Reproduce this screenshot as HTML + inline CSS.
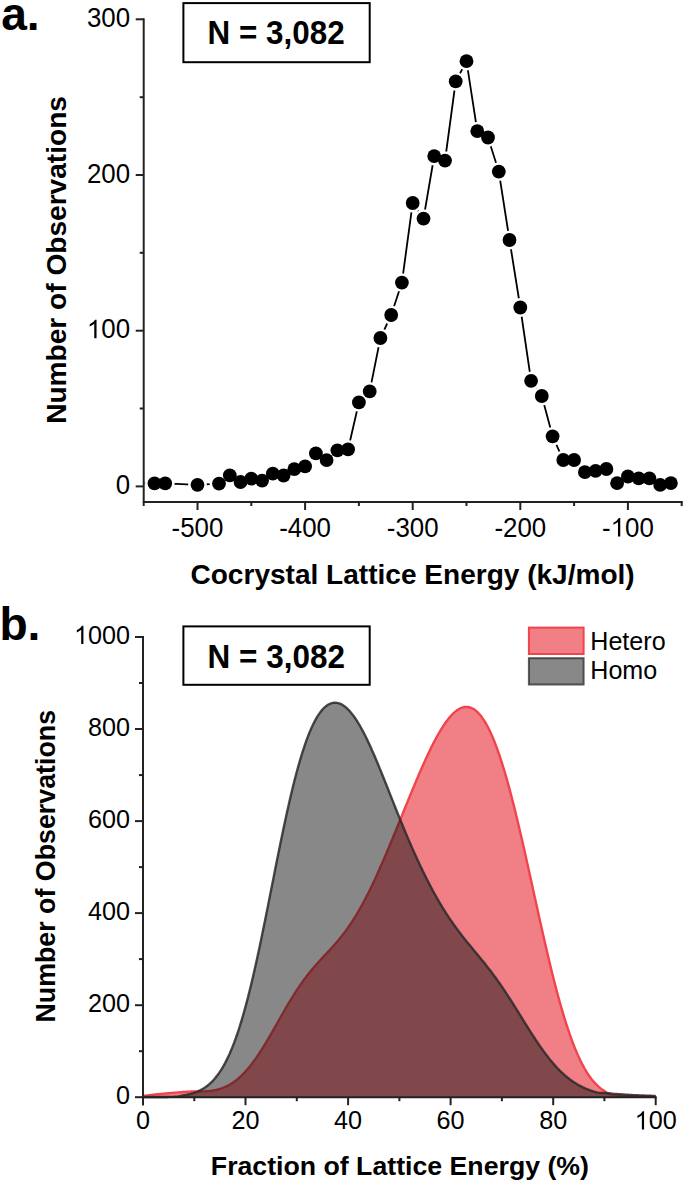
<!DOCTYPE html>
<html><head><meta charset="utf-8"><style>
html,body{margin:0;padding:0;background:#fff;overflow:hidden;}
svg{display:block;}
text{font-family:"Liberation Sans", sans-serif;}
</style></head><body>
<svg width="685" height="1184" viewBox="0 0 685 1184">
<rect width="685" height="1184" fill="#fff"/>
<text x="1.2" y="30.1" font-size="46.2" font-weight="bold" font-family="Liberation Sans, sans-serif">a.</text>
<rect x="183.4" y="3.1" width="186.3" height="59.1" fill="none" stroke="#000" stroke-width="2"/>
<g transform="translate(207.6,44.4) scale(1,1.041)"><text x="0" y="0" font-size="31.4" font-weight="bold" font-family="Liberation Sans, sans-serif">N = 3,082</text></g>
<g stroke="#222" stroke-width="2" fill="none" stroke-linecap="butt">
<path d="M143.7,18.3 V503.0 M142.7,502.0 H682.7"/>
<path d="M135.7,486.4 H143.7"/>
<path d="M139.7,408.5 H143.7"/>
<path d="M135.7,330.7 H143.7"/>
<path d="M139.7,252.8 H143.7"/>
<path d="M135.7,175.0 H143.7"/>
<path d="M139.7,97.2 H143.7"/>
<path d="M135.7,19.3 H143.7"/>
<path d="M143.7,502.0 V506.0"/>
<path d="M197.5,502.0 V510.0"/>
<path d="M251.3,502.0 V506.0"/>
<path d="M305.1,502.0 V510.0"/>
<path d="M358.9,502.0 V506.0"/>
<path d="M412.7,502.0 V510.0"/>
<path d="M466.5,502.0 V506.0"/>
<path d="M520.3,502.0 V510.0"/>
<path d="M574.1,502.0 V506.0"/>
<path d="M627.9,502.0 V510.0"/>
<path d="M681.7,502.0 V506.0"/>
</g>
<g transform="translate(115.70,494.00) scale(1,1.041)"><text x="0" y="0" font-size="25.90" fill="#000" font-family="Liberation Sans, sans-serif" xml:space="preserve">0</text></g>
<g transform="translate(86.89,338.30) scale(1,1.041)"><text x="0" y="0" font-size="25.90" fill="#000" font-family="Liberation Sans, sans-serif" xml:space="preserve"> 00</text><path transform="translate(0.00,0) scale(0.01265,-0.01215)" d="M763,0 L583,0 L583,1147 Q480,1050 223,929 L223,1103 Q520,1230 650,1466 L763,1466 Z" fill="#000"/></g>
<g transform="translate(86.89,182.60) scale(1,1.041)"><text x="0" y="0" font-size="25.90" fill="#000" font-family="Liberation Sans, sans-serif" xml:space="preserve">200</text></g>
<g transform="translate(86.89,26.90) scale(1,1.041)"><text x="0" y="0" font-size="25.90" fill="#000" font-family="Liberation Sans, sans-serif" xml:space="preserve">300</text></g>
<g transform="translate(171.58,536.60) scale(1,1.041)"><text x="0" y="0" font-size="25.90" fill="#000" font-family="Liberation Sans, sans-serif" xml:space="preserve">-500</text></g>
<g transform="translate(279.18,536.60) scale(1,1.041)"><text x="0" y="0" font-size="25.90" fill="#000" font-family="Liberation Sans, sans-serif" xml:space="preserve">-400</text></g>
<g transform="translate(386.78,536.60) scale(1,1.041)"><text x="0" y="0" font-size="25.90" fill="#000" font-family="Liberation Sans, sans-serif" xml:space="preserve">-300</text></g>
<g transform="translate(494.38,536.60) scale(1,1.041)"><text x="0" y="0" font-size="25.90" fill="#000" font-family="Liberation Sans, sans-serif" xml:space="preserve">-200</text></g>
<g transform="translate(601.98,536.60) scale(1,1.041)"><text x="0" y="0" font-size="25.90" fill="#000" font-family="Liberation Sans, sans-serif" xml:space="preserve">- 00</text><path transform="translate(8.62,0) scale(0.01265,-0.01215)" d="M763,0 L583,0 L583,1147 Q480,1050 223,929 L223,1103 Q520,1230 650,1466 L763,1466 Z" fill="#000"/></g>
<text x="412.6" y="584.4" font-size="28.06" font-weight="bold" text-anchor="middle" font-family="Liberation Sans, sans-serif">Cocrystal Lattice Energy (kJ/mol)</text>
<text transform="translate(65.8,259.95) rotate(-90)" font-size="28.1" font-weight="bold" text-anchor="middle" font-family="Liberation Sans, sans-serif">Number of Observations</text>
<path d="M144.7,483.4 L154.5,483.4 L165.2,483.4 L197.5,484.8 L219.0,483.6 L229.8,475.3 L240.5,482.0 L251.3,478.7 L262.1,480.6 L272.8,473.6 L283.6,475.5 L294.3,469.2 L305.1,466.3 L315.9,453.4 L326.6,460.1 L337.4,450.3 L348.1,449.3 L358.9,402.4 L369.7,391.4 L380.4,338.0 L391.2,315.0 L401.9,282.6 L412.7,203.0 L423.5,218.6 L434.2,156.1 L445.0,160.6 L455.7,81.3 L466.5,61.2 L477.3,131.2 L488.0,137.5 L498.8,171.6 L509.5,240.0 L520.3,307.5 L531.1,380.8 L541.8,396.0 L552.6,436.3 L563.3,460.0 L574.1,460.0 L584.9,472.2 L595.6,470.8 L606.4,469.0 L617.1,483.2 L627.9,476.5 L638.7,478.3 L649.4,478.4 L660.2,484.9 L670.9,483.1" fill="none" stroke="#000" stroke-width="1.8"/>
<circle cx="154.5" cy="483.4" r="9.4" fill="#fff"/>
<circle cx="165.2" cy="483.4" r="9.4" fill="#fff"/>
<circle cx="197.5" cy="484.8" r="9.4" fill="#fff"/>
<circle cx="219.0" cy="483.6" r="9.4" fill="#fff"/>
<circle cx="229.8" cy="475.3" r="9.4" fill="#fff"/>
<circle cx="240.5" cy="482.0" r="9.4" fill="#fff"/>
<circle cx="251.3" cy="478.7" r="9.4" fill="#fff"/>
<circle cx="262.1" cy="480.6" r="9.4" fill="#fff"/>
<circle cx="272.8" cy="473.6" r="9.4" fill="#fff"/>
<circle cx="283.6" cy="475.5" r="9.4" fill="#fff"/>
<circle cx="294.3" cy="469.2" r="9.4" fill="#fff"/>
<circle cx="305.1" cy="466.3" r="9.4" fill="#fff"/>
<circle cx="315.9" cy="453.4" r="9.4" fill="#fff"/>
<circle cx="326.6" cy="460.1" r="9.4" fill="#fff"/>
<circle cx="337.4" cy="450.3" r="9.4" fill="#fff"/>
<circle cx="348.1" cy="449.3" r="9.4" fill="#fff"/>
<circle cx="358.9" cy="402.4" r="9.4" fill="#fff"/>
<circle cx="369.7" cy="391.4" r="9.4" fill="#fff"/>
<circle cx="380.4" cy="338.0" r="9.4" fill="#fff"/>
<circle cx="391.2" cy="315.0" r="9.4" fill="#fff"/>
<circle cx="401.9" cy="282.6" r="9.4" fill="#fff"/>
<circle cx="412.7" cy="203.0" r="9.4" fill="#fff"/>
<circle cx="423.5" cy="218.6" r="9.4" fill="#fff"/>
<circle cx="434.2" cy="156.1" r="9.4" fill="#fff"/>
<circle cx="445.0" cy="160.6" r="9.4" fill="#fff"/>
<circle cx="455.7" cy="81.3" r="9.4" fill="#fff"/>
<circle cx="466.5" cy="61.2" r="9.4" fill="#fff"/>
<circle cx="477.3" cy="131.2" r="9.4" fill="#fff"/>
<circle cx="488.0" cy="137.5" r="9.4" fill="#fff"/>
<circle cx="498.8" cy="171.6" r="9.4" fill="#fff"/>
<circle cx="509.5" cy="240.0" r="9.4" fill="#fff"/>
<circle cx="520.3" cy="307.5" r="9.4" fill="#fff"/>
<circle cx="531.1" cy="380.8" r="9.4" fill="#fff"/>
<circle cx="541.8" cy="396.0" r="9.4" fill="#fff"/>
<circle cx="552.6" cy="436.3" r="9.4" fill="#fff"/>
<circle cx="563.3" cy="460.0" r="9.4" fill="#fff"/>
<circle cx="574.1" cy="460.0" r="9.4" fill="#fff"/>
<circle cx="584.9" cy="472.2" r="9.4" fill="#fff"/>
<circle cx="595.6" cy="470.8" r="9.4" fill="#fff"/>
<circle cx="606.4" cy="469.0" r="9.4" fill="#fff"/>
<circle cx="617.1" cy="483.2" r="9.4" fill="#fff"/>
<circle cx="627.9" cy="476.5" r="9.4" fill="#fff"/>
<circle cx="638.7" cy="478.3" r="9.4" fill="#fff"/>
<circle cx="649.4" cy="478.4" r="9.4" fill="#fff"/>
<circle cx="660.2" cy="484.9" r="9.4" fill="#fff"/>
<circle cx="670.9" cy="483.1" r="9.4" fill="#fff"/>
<circle cx="154.5" cy="483.4" r="6.9" fill="#000"/>
<circle cx="165.2" cy="483.4" r="6.9" fill="#000"/>
<circle cx="197.5" cy="484.8" r="6.9" fill="#000"/>
<circle cx="219.0" cy="483.6" r="6.9" fill="#000"/>
<circle cx="229.8" cy="475.3" r="6.9" fill="#000"/>
<circle cx="240.5" cy="482.0" r="6.9" fill="#000"/>
<circle cx="251.3" cy="478.7" r="6.9" fill="#000"/>
<circle cx="262.1" cy="480.6" r="6.9" fill="#000"/>
<circle cx="272.8" cy="473.6" r="6.9" fill="#000"/>
<circle cx="283.6" cy="475.5" r="6.9" fill="#000"/>
<circle cx="294.3" cy="469.2" r="6.9" fill="#000"/>
<circle cx="305.1" cy="466.3" r="6.9" fill="#000"/>
<circle cx="315.9" cy="453.4" r="6.9" fill="#000"/>
<circle cx="326.6" cy="460.1" r="6.9" fill="#000"/>
<circle cx="337.4" cy="450.3" r="6.9" fill="#000"/>
<circle cx="348.1" cy="449.3" r="6.9" fill="#000"/>
<circle cx="358.9" cy="402.4" r="6.9" fill="#000"/>
<circle cx="369.7" cy="391.4" r="6.9" fill="#000"/>
<circle cx="380.4" cy="338.0" r="6.9" fill="#000"/>
<circle cx="391.2" cy="315.0" r="6.9" fill="#000"/>
<circle cx="401.9" cy="282.6" r="6.9" fill="#000"/>
<circle cx="412.7" cy="203.0" r="6.9" fill="#000"/>
<circle cx="423.5" cy="218.6" r="6.9" fill="#000"/>
<circle cx="434.2" cy="156.1" r="6.9" fill="#000"/>
<circle cx="445.0" cy="160.6" r="6.9" fill="#000"/>
<circle cx="455.7" cy="81.3" r="6.9" fill="#000"/>
<circle cx="466.5" cy="61.2" r="6.9" fill="#000"/>
<circle cx="477.3" cy="131.2" r="6.9" fill="#000"/>
<circle cx="488.0" cy="137.5" r="6.9" fill="#000"/>
<circle cx="498.8" cy="171.6" r="6.9" fill="#000"/>
<circle cx="509.5" cy="240.0" r="6.9" fill="#000"/>
<circle cx="520.3" cy="307.5" r="6.9" fill="#000"/>
<circle cx="531.1" cy="380.8" r="6.9" fill="#000"/>
<circle cx="541.8" cy="396.0" r="6.9" fill="#000"/>
<circle cx="552.6" cy="436.3" r="6.9" fill="#000"/>
<circle cx="563.3" cy="460.0" r="6.9" fill="#000"/>
<circle cx="574.1" cy="460.0" r="6.9" fill="#000"/>
<circle cx="584.9" cy="472.2" r="6.9" fill="#000"/>
<circle cx="595.6" cy="470.8" r="6.9" fill="#000"/>
<circle cx="606.4" cy="469.0" r="6.9" fill="#000"/>
<circle cx="617.1" cy="483.2" r="6.9" fill="#000"/>
<circle cx="627.9" cy="476.5" r="6.9" fill="#000"/>
<circle cx="638.7" cy="478.3" r="6.9" fill="#000"/>
<circle cx="649.4" cy="478.4" r="6.9" fill="#000"/>
<circle cx="660.2" cy="484.9" r="6.9" fill="#000"/>
<circle cx="670.9" cy="483.1" r="6.9" fill="#000"/>
<text x="-0.6" y="639.8" font-size="46.2" font-weight="bold" font-family="Liberation Sans, sans-serif">b.</text>
<rect x="183.4" y="626.4" width="186.3" height="58.4" fill="none" stroke="#000" stroke-width="2"/>
<g transform="translate(207.6,667.6) scale(1,1.041)"><text x="0" y="0" font-size="31.5" font-weight="bold" font-family="Liberation Sans, sans-serif">N = 3,082</text></g>
<path d="M143.00,1096.00 L144.00,1095.87 L145.00,1095.74 L146.00,1095.61 L147.00,1095.49 L148.00,1095.36 L149.00,1095.23 L150.00,1095.10 L151.00,1094.97 L152.00,1094.84 L153.00,1094.71 L154.00,1094.61 L155.00,1094.51 L156.00,1094.41 L157.00,1094.32 L158.00,1094.22 L159.00,1094.12 L160.00,1094.02 L161.00,1093.92 L162.00,1093.82 L163.00,1093.73 L164.00,1093.63 L165.00,1093.53 L166.00,1093.43 L167.00,1093.34 L168.00,1093.26 L169.00,1093.17 L170.00,1093.09 L171.00,1093.01 L172.00,1092.92 L173.00,1092.84 L174.00,1092.75 L175.00,1092.67 L176.00,1092.59 L177.00,1092.50 L178.00,1092.42 L179.00,1092.33 L180.00,1092.26 L181.00,1092.19 L182.00,1092.13 L183.00,1092.06 L184.00,1092.00 L185.00,1091.93 L186.00,1091.86 L187.00,1091.80 L188.00,1091.73 L189.00,1091.67 L190.00,1091.60 L191.00,1091.56 L192.00,1091.51 L193.00,1091.47 L194.00,1091.42 L195.00,1091.38 L196.00,1091.36 L197.00,1091.36 L198.00,1091.36 L199.00,1091.37 L200.00,1091.42 L201.00,1091.45 L202.00,1091.46 L203.00,1091.46 L204.00,1091.43 L205.00,1091.38 L206.00,1091.32 L207.00,1091.25 L208.00,1091.17 L209.00,1091.08 L210.00,1090.97 L211.00,1090.84 L212.00,1090.71 L213.00,1090.55 L214.00,1090.38 L215.00,1090.18 L216.00,1089.97 L217.00,1089.74 L218.00,1089.48 L219.00,1089.20 L220.00,1088.90 L221.00,1088.58 L222.00,1088.23 L223.00,1087.85 L224.00,1087.45 L225.00,1087.02 L226.00,1086.57 L227.00,1086.08 L228.00,1085.57 L229.00,1085.03 L230.00,1084.46 L231.00,1083.86 L232.00,1083.22 L233.00,1082.56 L234.00,1081.86 L235.00,1081.13 L236.00,1080.37 L237.00,1079.58 L238.00,1078.75 L239.00,1077.89 L240.00,1076.99 L241.00,1076.07 L242.00,1075.10 L243.00,1074.11 L244.00,1073.08 L245.00,1072.02 L246.00,1070.92 L247.00,1069.79 L248.00,1068.63 L249.00,1067.43 L250.00,1066.21 L251.00,1064.95 L252.00,1063.65 L253.00,1062.33 L254.00,1060.98 L255.00,1059.59 L256.00,1058.18 L257.00,1056.74 L258.00,1055.27 L259.00,1053.77 L260.00,1052.25 L261.00,1050.70 L262.00,1049.13 L263.00,1047.54 L264.00,1045.92 L265.00,1044.29 L266.00,1042.63 L267.00,1040.96 L268.00,1039.27 L269.00,1037.57 L270.00,1035.85 L271.00,1034.12 L272.00,1032.39 L273.00,1030.64 L274.00,1028.88 L275.00,1027.12 L276.00,1025.36 L277.00,1023.59 L278.00,1021.82 L279.00,1020.05 L280.00,1018.28 L281.00,1016.52 L282.00,1014.76 L283.00,1013.01 L284.00,1011.27 L285.00,1009.54 L286.00,1007.81 L287.00,1006.10 L288.00,1004.41 L289.00,1002.72 L290.00,1001.06 L291.00,999.41 L292.00,997.78 L293.00,996.16 L294.00,994.57 L295.00,993.00 L296.00,991.44 L297.00,989.91 L298.00,988.40 L299.00,986.92 L300.00,985.45 L301.00,984.01 L302.00,982.59 L303.00,981.20 L304.00,979.82 L305.00,978.47 L306.00,977.15 L307.00,975.84 L308.00,974.56 L309.00,973.29 L310.00,972.05 L311.00,970.82 L312.00,969.62 L313.00,968.43 L314.00,967.26 L315.00,966.10 L316.00,964.96 L317.00,963.83 L318.00,962.71 L319.00,961.61 L320.00,960.51 L321.00,959.42 L322.00,958.34 L323.00,957.26 L324.00,956.19 L325.00,955.12 L326.00,954.05 L327.00,952.98 L328.00,951.90 L329.00,950.82 L330.00,949.74 L331.00,948.65 L332.00,947.55 L333.00,946.44 L334.00,945.32 L335.00,944.19 L336.00,943.04 L337.00,941.88 L338.00,940.70 L339.00,939.50 L340.00,938.28 L341.00,937.05 L342.00,935.79 L343.00,934.51 L344.00,933.21 L345.00,931.88 L346.00,930.53 L347.00,929.15 L348.00,927.75 L349.00,926.32 L350.00,924.86 L351.00,923.37 L352.00,921.86 L353.00,920.32 L354.00,918.74 L355.00,917.14 L356.00,915.51 L357.00,913.85 L358.00,912.16 L359.00,910.45 L360.00,908.70 L361.00,906.92 L362.00,905.12 L363.00,903.28 L364.00,901.42 L365.00,899.53 L366.00,897.61 L367.00,895.66 L368.00,893.69 L369.00,891.69 L370.00,889.66 L371.00,887.61 L372.00,885.53 L373.00,883.43 L374.00,881.31 L375.00,879.16 L376.00,876.99 L377.00,874.80 L378.00,872.59 L379.00,870.36 L380.00,868.11 L381.00,865.84 L382.00,863.56 L383.00,861.26 L384.00,858.94 L385.00,856.60 L386.00,854.26 L387.00,851.89 L388.00,849.52 L389.00,847.13 L390.00,844.73 L391.00,842.33 L392.00,839.91 L393.00,837.48 L394.00,835.05 L395.00,832.61 L396.00,830.16 L397.00,827.71 L398.00,825.26 L399.00,822.80 L400.00,820.34 L401.00,817.87 L402.00,815.41 L403.00,812.94 L404.00,810.48 L405.00,808.02 L406.00,805.56 L407.00,803.11 L408.00,800.66 L409.00,798.22 L410.00,795.78 L411.00,793.36 L412.00,790.94 L413.00,788.53 L414.00,786.13 L415.00,783.74 L416.00,781.37 L417.00,779.01 L418.00,776.66 L419.00,774.33 L420.00,772.02 L421.00,769.73 L422.00,767.45 L423.00,765.20 L424.00,762.97 L425.00,760.76 L426.00,758.58 L427.00,756.42 L428.00,754.29 L429.00,752.18 L430.00,750.11 L431.00,748.06 L432.00,746.05 L433.00,744.08 L434.00,742.13 L435.00,740.23 L436.00,738.36 L437.00,736.53 L438.00,734.74 L439.00,732.99 L440.00,731.28 L441.00,729.62 L442.00,728.01 L443.00,726.44 L444.00,724.92 L445.00,723.46 L446.00,722.04 L447.00,720.68 L448.00,719.37 L449.00,718.12 L450.00,716.93 L451.00,715.80 L452.00,714.73 L453.00,713.72 L454.00,712.77 L455.00,711.89 L456.00,711.08 L457.00,710.34 L458.00,709.66 L459.00,709.06 L460.00,708.52 L461.00,708.06 L462.00,707.68 L463.00,707.37 L464.00,707.14 L465.00,706.99 L466.00,706.92 L467.00,706.93 L468.00,707.02 L469.00,707.20 L470.00,707.45 L471.00,707.80 L472.00,708.23 L473.00,708.75 L474.00,709.35 L475.00,710.04 L476.00,710.83 L477.00,711.70 L478.00,712.66 L479.00,713.72 L480.00,714.86 L481.00,716.10 L482.00,717.43 L483.00,718.85 L484.00,720.36 L485.00,721.97 L486.00,723.67 L487.00,725.46 L488.00,727.35 L489.00,729.32 L490.00,731.39 L491.00,733.55 L492.00,735.80 L493.00,738.15 L494.00,740.58 L495.00,743.10 L496.00,745.71 L497.00,748.41 L498.00,751.19 L499.00,754.06 L500.00,757.01 L501.00,760.05 L502.00,763.17 L503.00,766.37 L504.00,769.64 L505.00,773.00 L506.00,776.43 L507.00,779.93 L508.00,783.50 L509.00,787.15 L510.00,790.86 L511.00,794.63 L512.00,798.47 L513.00,802.38 L514.00,806.34 L515.00,810.35 L516.00,814.42 L517.00,818.54 L518.00,822.71 L519.00,826.93 L520.00,831.19 L521.00,835.49 L522.00,839.82 L523.00,844.20 L524.00,848.60 L525.00,853.03 L526.00,857.49 L527.00,861.97 L528.00,866.47 L529.00,870.99 L530.00,875.52 L531.00,880.06 L532.00,884.61 L533.00,889.16 L534.00,893.72 L535.00,898.27 L536.00,902.81 L537.00,907.35 L538.00,911.88 L539.00,916.39 L540.00,920.89 L541.00,925.36 L542.00,929.82 L543.00,934.24 L544.00,938.64 L545.00,943.00 L546.00,947.33 L547.00,951.63 L548.00,955.88 L549.00,960.09 L550.00,964.25 L551.00,968.37 L552.00,972.44 L553.00,976.46 L554.00,980.42 L555.00,984.33 L556.00,988.17 L557.00,991.96 L558.00,995.69 L559.00,999.35 L560.00,1002.95 L561.00,1006.48 L562.00,1009.94 L563.00,1013.34 L564.00,1016.66 L565.00,1019.91 L566.00,1023.09 L567.00,1026.20 L568.00,1029.23 L569.00,1032.19 L570.00,1035.07 L571.00,1037.88 L572.00,1040.61 L573.00,1043.26 L574.00,1045.84 L575.00,1048.34 L576.00,1050.77 L577.00,1053.12 L578.00,1055.39 L579.00,1057.59 L580.00,1059.71 L581.00,1061.76 L582.00,1063.74 L583.00,1065.64 L584.00,1067.47 L585.00,1069.23 L586.00,1070.92 L587.00,1072.54 L588.00,1074.09 L589.00,1075.58 L590.00,1077.00 L591.00,1078.35 L592.00,1079.64 L593.00,1080.87 L594.00,1082.04 L595.00,1083.15 L596.00,1084.20 L597.00,1085.20 L598.00,1086.14 L599.00,1087.03 L600.00,1087.87 L601.00,1088.66 L602.00,1089.40 L603.00,1090.09 L604.00,1090.74 L605.00,1091.51 L606.00,1092.23 L607.00,1092.91 L608.00,1093.50 L609.00,1093.94 L610.00,1094.32 L611.00,1094.63 L612.00,1094.91 L613.00,1095.12 L614.00,1095.25 L615.00,1095.32 L616.00,1095.40 L617.00,1095.47 L618.00,1095.55 L619.00,1095.62 L620.00,1095.70 L621.00,1095.73 L622.00,1095.76 L623.00,1095.79 L624.00,1095.82 L625.00,1095.85 L626.00,1095.88 L627.00,1095.91 L628.00,1095.94 L629.00,1095.97 L630.00,1096.00 L631.00,1096.02 L632.00,1096.03 L633.00,1096.05 L634.00,1096.07 L635.00,1096.08 L636.00,1096.10 L637.00,1096.12 L638.00,1096.13 L639.00,1096.15 L640.00,1096.17 L641.00,1096.18 L642.00,1096.20 L643.00,1096.21 L644.00,1096.23 L645.00,1096.24 L646.00,1096.26 L647.00,1096.27 L648.00,1096.29 L649.00,1096.30 L650.00,1096.32 L651.00,1096.33 L652.00,1096.35 L653.00,1096.36 L654.00,1096.38 L655.00,1096.39 L655.70,1096.40 L655.7,1097.2 L143,1097.2 Z" fill="#e1000d" fill-opacity="0.5" stroke="none"/>
<path d="M143.00,1096.00 L144.00,1095.87 L145.00,1095.74 L146.00,1095.61 L147.00,1095.49 L148.00,1095.36 L149.00,1095.23 L150.00,1095.10 L151.00,1094.97 L152.00,1094.84 L153.00,1094.71 L154.00,1094.61 L155.00,1094.51 L156.00,1094.41 L157.00,1094.32 L158.00,1094.22 L159.00,1094.12 L160.00,1094.02 L161.00,1093.92 L162.00,1093.82 L163.00,1093.73 L164.00,1093.63 L165.00,1093.53 L166.00,1093.43 L167.00,1093.34 L168.00,1093.26 L169.00,1093.17 L170.00,1093.09 L171.00,1093.01 L172.00,1092.92 L173.00,1092.84 L174.00,1092.75 L175.00,1092.67 L176.00,1092.59 L177.00,1092.50 L178.00,1092.42 L179.00,1092.33 L180.00,1092.26 L181.00,1092.19 L182.00,1092.13 L183.00,1092.06 L184.00,1092.00 L185.00,1091.93 L186.00,1091.86 L187.00,1091.80 L188.00,1091.73 L189.00,1091.67 L190.00,1091.60 L191.00,1091.56 L192.00,1091.51 L193.00,1091.47 L194.00,1091.42 L195.00,1091.38 L196.00,1091.36 L197.00,1091.36 L198.00,1091.36 L199.00,1091.37 L200.00,1091.42 L201.00,1091.45 L202.00,1091.46 L203.00,1091.46 L204.00,1091.43 L205.00,1091.38 L206.00,1091.32 L207.00,1091.25 L208.00,1091.17 L209.00,1091.08 L210.00,1090.97 L211.00,1090.84 L212.00,1090.71 L213.00,1090.55 L214.00,1090.38 L215.00,1090.18 L216.00,1089.97 L217.00,1089.74 L218.00,1089.48 L219.00,1089.20 L220.00,1088.90 L221.00,1088.58 L222.00,1088.23 L223.00,1087.85 L224.00,1087.45 L225.00,1087.02 L226.00,1086.57 L227.00,1086.08 L228.00,1085.57 L229.00,1085.03 L230.00,1084.46 L231.00,1083.86 L232.00,1083.22 L233.00,1082.56 L234.00,1081.86 L235.00,1081.13 L236.00,1080.37 L237.00,1079.58 L238.00,1078.75 L239.00,1077.89 L240.00,1076.99 L241.00,1076.07 L242.00,1075.10 L243.00,1074.11 L244.00,1073.08 L245.00,1072.02 L246.00,1070.92 L247.00,1069.79 L248.00,1068.63 L249.00,1067.43 L250.00,1066.21 L251.00,1064.95 L252.00,1063.65 L253.00,1062.33 L254.00,1060.98 L255.00,1059.59 L256.00,1058.18 L257.00,1056.74 L258.00,1055.27 L259.00,1053.77 L260.00,1052.25 L261.00,1050.70 L262.00,1049.13 L263.00,1047.54 L264.00,1045.92 L265.00,1044.29 L266.00,1042.63 L267.00,1040.96 L268.00,1039.27 L269.00,1037.57 L270.00,1035.85 L271.00,1034.12 L272.00,1032.39 L273.00,1030.64 L274.00,1028.88 L275.00,1027.12 L276.00,1025.36 L277.00,1023.59 L278.00,1021.82 L279.00,1020.05 L280.00,1018.28 L281.00,1016.52 L282.00,1014.76 L283.00,1013.01 L284.00,1011.27 L285.00,1009.54 L286.00,1007.81 L287.00,1006.10 L288.00,1004.41 L289.00,1002.72 L290.00,1001.06 L291.00,999.41 L292.00,997.78 L293.00,996.16 L294.00,994.57 L295.00,993.00 L296.00,991.44 L297.00,989.91 L298.00,988.40 L299.00,986.92 L300.00,985.45 L301.00,984.01 L302.00,982.59 L303.00,981.20 L304.00,979.82 L305.00,978.47 L306.00,977.15 L307.00,975.84 L308.00,974.56 L309.00,973.29 L310.00,972.05 L311.00,970.82 L312.00,969.62 L313.00,968.43 L314.00,967.26 L315.00,966.10 L316.00,964.96 L317.00,963.83 L318.00,962.71 L319.00,961.61 L320.00,960.51 L321.00,959.42 L322.00,958.34 L323.00,957.26 L324.00,956.19 L325.00,955.12 L326.00,954.05 L327.00,952.98 L328.00,951.90 L329.00,950.82 L330.00,949.74 L331.00,948.65 L332.00,947.55 L333.00,946.44 L334.00,945.32 L335.00,944.19 L336.00,943.04 L337.00,941.88 L338.00,940.70 L339.00,939.50 L340.00,938.28 L341.00,937.05 L342.00,935.79 L343.00,934.51 L344.00,933.21 L345.00,931.88 L346.00,930.53 L347.00,929.15 L348.00,927.75 L349.00,926.32 L350.00,924.86 L351.00,923.37 L352.00,921.86 L353.00,920.32 L354.00,918.74 L355.00,917.14 L356.00,915.51 L357.00,913.85 L358.00,912.16 L359.00,910.45 L360.00,908.70 L361.00,906.92 L362.00,905.12 L363.00,903.28 L364.00,901.42 L365.00,899.53 L366.00,897.61 L367.00,895.66 L368.00,893.69 L369.00,891.69 L370.00,889.66 L371.00,887.61 L372.00,885.53 L373.00,883.43 L374.00,881.31 L375.00,879.16 L376.00,876.99 L377.00,874.80 L378.00,872.59 L379.00,870.36 L380.00,868.11 L381.00,865.84 L382.00,863.56 L383.00,861.26 L384.00,858.94 L385.00,856.60 L386.00,854.26 L387.00,851.89 L388.00,849.52 L389.00,847.13 L390.00,844.73 L391.00,842.33 L392.00,839.91 L393.00,837.48 L394.00,835.05 L395.00,832.61 L396.00,830.16 L397.00,827.71 L398.00,825.26 L399.00,822.80 L400.00,820.34 L401.00,817.87 L402.00,815.41 L403.00,812.94 L404.00,810.48 L405.00,808.02 L406.00,805.56 L407.00,803.11 L408.00,800.66 L409.00,798.22 L410.00,795.78 L411.00,793.36 L412.00,790.94 L413.00,788.53 L414.00,786.13 L415.00,783.74 L416.00,781.37 L417.00,779.01 L418.00,776.66 L419.00,774.33 L420.00,772.02 L421.00,769.73 L422.00,767.45 L423.00,765.20 L424.00,762.97 L425.00,760.76 L426.00,758.58 L427.00,756.42 L428.00,754.29 L429.00,752.18 L430.00,750.11 L431.00,748.06 L432.00,746.05 L433.00,744.08 L434.00,742.13 L435.00,740.23 L436.00,738.36 L437.00,736.53 L438.00,734.74 L439.00,732.99 L440.00,731.28 L441.00,729.62 L442.00,728.01 L443.00,726.44 L444.00,724.92 L445.00,723.46 L446.00,722.04 L447.00,720.68 L448.00,719.37 L449.00,718.12 L450.00,716.93 L451.00,715.80 L452.00,714.73 L453.00,713.72 L454.00,712.77 L455.00,711.89 L456.00,711.08 L457.00,710.34 L458.00,709.66 L459.00,709.06 L460.00,708.52 L461.00,708.06 L462.00,707.68 L463.00,707.37 L464.00,707.14 L465.00,706.99 L466.00,706.92 L467.00,706.93 L468.00,707.02 L469.00,707.20 L470.00,707.45 L471.00,707.80 L472.00,708.23 L473.00,708.75 L474.00,709.35 L475.00,710.04 L476.00,710.83 L477.00,711.70 L478.00,712.66 L479.00,713.72 L480.00,714.86 L481.00,716.10 L482.00,717.43 L483.00,718.85 L484.00,720.36 L485.00,721.97 L486.00,723.67 L487.00,725.46 L488.00,727.35 L489.00,729.32 L490.00,731.39 L491.00,733.55 L492.00,735.80 L493.00,738.15 L494.00,740.58 L495.00,743.10 L496.00,745.71 L497.00,748.41 L498.00,751.19 L499.00,754.06 L500.00,757.01 L501.00,760.05 L502.00,763.17 L503.00,766.37 L504.00,769.64 L505.00,773.00 L506.00,776.43 L507.00,779.93 L508.00,783.50 L509.00,787.15 L510.00,790.86 L511.00,794.63 L512.00,798.47 L513.00,802.38 L514.00,806.34 L515.00,810.35 L516.00,814.42 L517.00,818.54 L518.00,822.71 L519.00,826.93 L520.00,831.19 L521.00,835.49 L522.00,839.82 L523.00,844.20 L524.00,848.60 L525.00,853.03 L526.00,857.49 L527.00,861.97 L528.00,866.47 L529.00,870.99 L530.00,875.52 L531.00,880.06 L532.00,884.61 L533.00,889.16 L534.00,893.72 L535.00,898.27 L536.00,902.81 L537.00,907.35 L538.00,911.88 L539.00,916.39 L540.00,920.89 L541.00,925.36 L542.00,929.82 L543.00,934.24 L544.00,938.64 L545.00,943.00 L546.00,947.33 L547.00,951.63 L548.00,955.88 L549.00,960.09 L550.00,964.25 L551.00,968.37 L552.00,972.44 L553.00,976.46 L554.00,980.42 L555.00,984.33 L556.00,988.17 L557.00,991.96 L558.00,995.69 L559.00,999.35 L560.00,1002.95 L561.00,1006.48 L562.00,1009.94 L563.00,1013.34 L564.00,1016.66 L565.00,1019.91 L566.00,1023.09 L567.00,1026.20 L568.00,1029.23 L569.00,1032.19 L570.00,1035.07 L571.00,1037.88 L572.00,1040.61 L573.00,1043.26 L574.00,1045.84 L575.00,1048.34 L576.00,1050.77 L577.00,1053.12 L578.00,1055.39 L579.00,1057.59 L580.00,1059.71 L581.00,1061.76 L582.00,1063.74 L583.00,1065.64 L584.00,1067.47 L585.00,1069.23 L586.00,1070.92 L587.00,1072.54 L588.00,1074.09 L589.00,1075.58 L590.00,1077.00 L591.00,1078.35 L592.00,1079.64 L593.00,1080.87 L594.00,1082.04 L595.00,1083.15 L596.00,1084.20 L597.00,1085.20 L598.00,1086.14 L599.00,1087.03 L600.00,1087.87 L601.00,1088.66 L602.00,1089.40 L603.00,1090.09 L604.00,1090.74 L605.00,1091.51 L606.00,1092.23 L607.00,1092.91 L608.00,1093.50 L609.00,1093.94 L610.00,1094.32 L611.00,1094.63 L612.00,1094.91 L613.00,1095.12 L614.00,1095.25 L615.00,1095.32 L616.00,1095.40 L617.00,1095.47 L618.00,1095.55 L619.00,1095.62 L620.00,1095.70 L621.00,1095.73 L622.00,1095.76 L623.00,1095.79 L624.00,1095.82 L625.00,1095.85 L626.00,1095.88 L627.00,1095.91 L628.00,1095.94 L629.00,1095.97 L630.00,1096.00 L631.00,1096.02 L632.00,1096.03 L633.00,1096.05 L634.00,1096.07 L635.00,1096.08 L636.00,1096.10 L637.00,1096.12 L638.00,1096.13 L639.00,1096.15 L640.00,1096.17 L641.00,1096.18 L642.00,1096.20 L643.00,1096.21 L644.00,1096.23 L645.00,1096.24 L646.00,1096.26 L647.00,1096.27 L648.00,1096.29 L649.00,1096.30 L650.00,1096.32 L651.00,1096.33 L652.00,1096.35 L653.00,1096.36 L654.00,1096.38 L655.00,1096.39 L655.70,1096.40" fill="none" stroke="#f2444c" stroke-width="2.4"/>
<path d="M143.00,1097.00 L144.00,1097.00 L145.00,1097.00 L146.00,1097.00 L147.00,1097.00 L148.00,1097.00 L149.00,1097.00 L150.00,1097.00 L151.00,1097.00 L152.00,1097.00 L153.00,1097.00 L154.00,1097.00 L155.00,1097.00 L156.00,1097.00 L157.00,1097.00 L158.00,1097.00 L159.00,1097.00 L160.00,1097.00 L161.00,1097.00 L162.00,1097.00 L163.00,1097.00 L164.00,1097.00 L165.00,1097.00 L166.00,1096.98 L167.00,1096.96 L168.00,1096.94 L169.00,1096.92 L170.00,1096.90 L171.00,1096.88 L172.00,1096.85 L173.00,1096.83 L174.00,1096.81 L175.00,1096.79 L176.00,1096.77 L177.00,1096.68 L178.00,1096.56 L179.00,1096.43 L180.00,1096.22 L181.00,1095.99 L182.00,1095.76 L183.00,1095.53 L184.00,1095.29 L185.00,1095.12 L186.00,1094.93 L187.00,1094.74 L188.00,1094.52 L189.00,1094.29 L190.00,1094.05 L191.00,1093.78 L192.00,1093.50 L193.00,1093.20 L194.00,1092.87 L195.00,1092.52 L196.00,1092.15 L197.00,1091.75 L198.00,1091.33 L199.00,1090.87 L200.00,1090.39 L201.00,1089.87 L202.00,1089.32 L203.00,1088.74 L204.00,1088.12 L205.00,1087.46 L206.00,1086.76 L207.00,1086.01 L208.00,1085.23 L209.00,1084.40 L210.00,1083.52 L211.00,1082.59 L212.00,1081.61 L213.00,1080.58 L214.00,1079.49 L215.00,1078.34 L216.00,1077.13 L217.00,1075.87 L218.00,1074.53 L219.00,1073.14 L220.00,1071.67 L221.00,1070.14 L222.00,1068.53 L223.00,1066.85 L224.00,1065.10 L225.00,1063.27 L226.00,1061.36 L227.00,1059.37 L228.00,1057.30 L229.00,1055.14 L230.00,1052.90 L231.00,1050.58 L232.00,1048.16 L233.00,1045.66 L234.00,1043.07 L235.00,1040.39 L236.00,1037.62 L237.00,1034.75 L238.00,1031.80 L239.00,1028.75 L240.00,1025.61 L241.00,1022.38 L242.00,1019.06 L243.00,1015.64 L244.00,1012.14 L245.00,1008.54 L246.00,1004.86 L247.00,1001.09 L248.00,997.23 L249.00,993.28 L250.00,989.26 L251.00,985.15 L252.00,980.96 L253.00,976.70 L254.00,972.36 L255.00,967.95 L256.00,963.47 L257.00,958.93 L258.00,954.32 L259.00,949.66 L260.00,944.94 L261.00,940.17 L262.00,935.35 L263.00,930.48 L264.00,925.58 L265.00,920.64 L266.00,915.68 L267.00,910.68 L268.00,905.66 L269.00,900.63 L270.00,895.58 L271.00,890.53 L272.00,885.47 L273.00,880.41 L274.00,875.36 L275.00,870.32 L276.00,865.30 L277.00,860.29 L278.00,855.31 L279.00,850.37 L280.00,845.45 L281.00,840.58 L282.00,835.74 L283.00,830.96 L284.00,826.23 L285.00,821.55 L286.00,816.93 L287.00,812.38 L288.00,807.89 L289.00,803.47 L290.00,799.13 L291.00,794.86 L292.00,790.68 L293.00,786.57 L294.00,782.56 L295.00,778.63 L296.00,774.79 L297.00,771.04 L298.00,767.38 L299.00,763.83 L300.00,760.37 L301.00,757.01 L302.00,753.74 L303.00,750.58 L304.00,747.53 L305.00,744.57 L306.00,741.72 L307.00,738.97 L308.00,736.33 L309.00,733.79 L310.00,731.35 L311.00,729.02 L312.00,726.79 L313.00,724.67 L314.00,722.64 L315.00,720.73 L316.00,718.91 L317.00,717.20 L318.00,715.58 L319.00,714.07 L320.00,712.65 L321.00,711.34 L322.00,710.12 L323.00,708.99 L324.00,707.97 L325.00,707.03 L326.00,706.20 L327.00,705.45 L328.00,704.79 L329.00,704.23 L330.00,703.76 L331.00,703.37 L332.00,703.07 L333.00,702.86 L334.00,702.73 L335.00,702.69 L336.00,702.73 L337.00,702.85 L338.00,703.06 L339.00,703.34 L340.00,703.71 L341.00,704.15 L342.00,704.67 L343.00,705.27 L344.00,705.94 L345.00,706.68 L346.00,707.50 L347.00,708.39 L348.00,709.35 L349.00,710.38 L350.00,711.48 L351.00,712.65 L352.00,713.88 L353.00,715.18 L354.00,716.54 L355.00,717.96 L356.00,719.45 L357.00,720.99 L358.00,722.59 L359.00,724.25 L360.00,725.96 L361.00,727.73 L362.00,729.55 L363.00,731.42 L364.00,733.33 L365.00,735.30 L366.00,737.31 L367.00,739.36 L368.00,741.45 L369.00,743.58 L370.00,745.75 L371.00,747.96 L372.00,750.19 L373.00,752.47 L374.00,754.77 L375.00,757.09 L376.00,759.45 L377.00,761.83 L378.00,764.23 L379.00,766.65 L380.00,769.09 L381.00,771.55 L382.00,774.02 L383.00,776.50 L384.00,778.99 L385.00,781.50 L386.00,784.01 L387.00,786.53 L388.00,789.05 L389.00,791.57 L390.00,794.10 L391.00,796.62 L392.00,799.15 L393.00,801.67 L394.00,804.18 L395.00,806.69 L396.00,809.20 L397.00,811.70 L398.00,814.18 L399.00,816.66 L400.00,819.13 L401.00,821.58 L402.00,824.03 L403.00,826.45 L404.00,828.87 L405.00,831.27 L406.00,833.66 L407.00,836.03 L408.00,838.38 L409.00,840.72 L410.00,843.03 L411.00,845.34 L412.00,847.62 L413.00,849.88 L414.00,852.13 L415.00,854.36 L416.00,856.56 L417.00,858.75 L418.00,860.92 L419.00,863.07 L420.00,865.20 L421.00,867.30 L422.00,869.39 L423.00,871.46 L424.00,873.50 L425.00,875.52 L426.00,877.53 L427.00,879.51 L428.00,881.47 L429.00,883.41 L430.00,885.33 L431.00,887.22 L432.00,889.10 L433.00,890.95 L434.00,892.78 L435.00,894.59 L436.00,896.38 L437.00,898.14 L438.00,899.88 L439.00,901.60 L440.00,903.30 L441.00,904.98 L442.00,906.64 L443.00,908.27 L444.00,909.89 L445.00,911.48 L446.00,913.05 L447.00,914.60 L448.00,916.13 L449.00,917.64 L450.00,919.13 L451.00,920.60 L452.00,922.05 L453.00,923.48 L454.00,924.90 L455.00,926.29 L456.00,927.67 L457.00,929.03 L458.00,930.38 L459.00,931.71 L460.00,933.03 L461.00,934.34 L462.00,935.63 L463.00,936.91 L464.00,938.17 L465.00,939.43 L466.00,940.68 L467.00,941.92 L468.00,943.15 L469.00,944.37 L470.00,945.59 L471.00,946.81 L472.00,948.02 L473.00,949.23 L474.00,950.43 L475.00,951.64 L476.00,952.85 L477.00,954.05 L478.00,955.26 L479.00,956.47 L480.00,957.69 L481.00,958.91 L482.00,960.14 L483.00,961.37 L484.00,962.62 L485.00,963.87 L486.00,965.12 L487.00,966.39 L488.00,967.67 L489.00,968.96 L490.00,970.26 L491.00,971.58 L492.00,972.90 L493.00,974.24 L494.00,975.59 L495.00,976.96 L496.00,978.33 L497.00,979.73 L498.00,981.13 L499.00,982.55 L500.00,983.98 L501.00,985.43 L502.00,986.89 L503.00,988.37 L504.00,989.85 L505.00,991.35 L506.00,992.86 L507.00,994.39 L508.00,995.92 L509.00,997.47 L510.00,999.02 L511.00,1000.59 L512.00,1002.16 L513.00,1003.74 L514.00,1005.33 L515.00,1006.93 L516.00,1008.53 L517.00,1010.14 L518.00,1011.75 L519.00,1013.36 L520.00,1014.98 L521.00,1016.59 L522.00,1018.21 L523.00,1019.82 L524.00,1021.44 L525.00,1023.05 L526.00,1024.66 L527.00,1026.26 L528.00,1027.85 L529.00,1029.44 L530.00,1031.02 L531.00,1032.60 L532.00,1034.16 L533.00,1035.71 L534.00,1037.25 L535.00,1038.78 L536.00,1040.29 L537.00,1041.79 L538.00,1043.27 L539.00,1044.74 L540.00,1046.19 L541.00,1047.62 L542.00,1049.04 L543.00,1050.44 L544.00,1051.81 L545.00,1053.17 L546.00,1054.50 L547.00,1055.82 L548.00,1057.11 L549.00,1058.38 L550.00,1059.63 L551.00,1060.85 L552.00,1062.06 L553.00,1063.23 L554.00,1064.39 L555.00,1065.52 L556.00,1066.62 L557.00,1067.70 L558.00,1068.76 L559.00,1069.79 L560.00,1070.79 L561.00,1071.78 L562.00,1072.73 L563.00,1073.66 L564.00,1074.57 L565.00,1075.45 L566.00,1076.31 L567.00,1077.15 L568.00,1077.96 L569.00,1078.74 L570.00,1079.51 L571.00,1080.24 L572.00,1080.96 L573.00,1081.65 L574.00,1082.33 L575.00,1082.97 L576.00,1083.60 L577.00,1084.21 L578.00,1084.79 L579.00,1085.36 L580.00,1085.90 L581.00,1086.42 L582.00,1086.93 L583.00,1087.42 L584.00,1087.88 L585.00,1088.33 L586.00,1088.76 L587.00,1089.18 L588.00,1089.58 L589.00,1089.96 L590.00,1090.33 L591.00,1090.68 L592.00,1091.01 L593.00,1091.33 L594.00,1091.64 L595.00,1091.93 L596.00,1092.22 L597.00,1092.48 L598.00,1092.65 L599.00,1092.77 L600.00,1092.86 L601.00,1092.92 L602.00,1092.95 L603.00,1092.95 L604.00,1092.92 L605.00,1092.87 L606.00,1092.98 L607.00,1093.09 L608.00,1093.20 L609.00,1093.31 L610.00,1093.42 L611.00,1093.53 L612.00,1093.64 L613.00,1093.76 L614.00,1093.84 L615.00,1093.91 L616.00,1093.98 L617.00,1094.05 L618.00,1094.11 L619.00,1094.18 L620.00,1094.25 L621.00,1094.32 L622.00,1094.39 L623.00,1094.46 L624.00,1094.52 L625.00,1094.59 L626.00,1094.65 L627.00,1094.72 L628.00,1094.78 L629.00,1094.84 L630.00,1094.90 L631.00,1094.96 L632.00,1095.02 L633.00,1095.08 L634.00,1095.14 L635.00,1095.20 L636.00,1095.24 L637.00,1095.28 L638.00,1095.32 L639.00,1095.36 L640.00,1095.40 L641.00,1095.44 L642.00,1095.48 L643.00,1095.52 L644.00,1095.56 L645.00,1095.60 L646.00,1095.64 L647.00,1095.67 L648.00,1095.71 L649.00,1095.75 L650.00,1095.79 L651.00,1095.82 L652.00,1095.86 L653.00,1095.90 L654.00,1095.94 L655.00,1095.97 L655.70,1096.00 L655.7,1097.2 L143,1097.2 Z" fill="#111" fill-opacity="0.5" stroke="none"/>
<path d="M143.00,1097.00 L144.00,1097.00 L145.00,1097.00 L146.00,1097.00 L147.00,1097.00 L148.00,1097.00 L149.00,1097.00 L150.00,1097.00 L151.00,1097.00 L152.00,1097.00 L153.00,1097.00 L154.00,1097.00 L155.00,1097.00 L156.00,1097.00 L157.00,1097.00 L158.00,1097.00 L159.00,1097.00 L160.00,1097.00 L161.00,1097.00 L162.00,1097.00 L163.00,1097.00 L164.00,1097.00 L165.00,1097.00 L166.00,1096.98 L167.00,1096.96 L168.00,1096.94 L169.00,1096.92 L170.00,1096.90 L171.00,1096.88 L172.00,1096.85 L173.00,1096.83 L174.00,1096.81 L175.00,1096.79 L176.00,1096.77 L177.00,1096.68 L178.00,1096.56 L179.00,1096.43 L180.00,1096.22 L181.00,1095.99 L182.00,1095.76 L183.00,1095.53 L184.00,1095.29 L185.00,1095.12 L186.00,1094.93 L187.00,1094.74 L188.00,1094.52 L189.00,1094.29 L190.00,1094.05 L191.00,1093.78 L192.00,1093.50 L193.00,1093.20 L194.00,1092.87 L195.00,1092.52 L196.00,1092.15 L197.00,1091.75 L198.00,1091.33 L199.00,1090.87 L200.00,1090.39 L201.00,1089.87 L202.00,1089.32 L203.00,1088.74 L204.00,1088.12 L205.00,1087.46 L206.00,1086.76 L207.00,1086.01 L208.00,1085.23 L209.00,1084.40 L210.00,1083.52 L211.00,1082.59 L212.00,1081.61 L213.00,1080.58 L214.00,1079.49 L215.00,1078.34 L216.00,1077.13 L217.00,1075.87 L218.00,1074.53 L219.00,1073.14 L220.00,1071.67 L221.00,1070.14 L222.00,1068.53 L223.00,1066.85 L224.00,1065.10 L225.00,1063.27 L226.00,1061.36 L227.00,1059.37 L228.00,1057.30 L229.00,1055.14 L230.00,1052.90 L231.00,1050.58 L232.00,1048.16 L233.00,1045.66 L234.00,1043.07 L235.00,1040.39 L236.00,1037.62 L237.00,1034.75 L238.00,1031.80 L239.00,1028.75 L240.00,1025.61 L241.00,1022.38 L242.00,1019.06 L243.00,1015.64 L244.00,1012.14 L245.00,1008.54 L246.00,1004.86 L247.00,1001.09 L248.00,997.23 L249.00,993.28 L250.00,989.26 L251.00,985.15 L252.00,980.96 L253.00,976.70 L254.00,972.36 L255.00,967.95 L256.00,963.47 L257.00,958.93 L258.00,954.32 L259.00,949.66 L260.00,944.94 L261.00,940.17 L262.00,935.35 L263.00,930.48 L264.00,925.58 L265.00,920.64 L266.00,915.68 L267.00,910.68 L268.00,905.66 L269.00,900.63 L270.00,895.58 L271.00,890.53 L272.00,885.47 L273.00,880.41 L274.00,875.36 L275.00,870.32 L276.00,865.30 L277.00,860.29 L278.00,855.31 L279.00,850.37 L280.00,845.45 L281.00,840.58 L282.00,835.74 L283.00,830.96 L284.00,826.23 L285.00,821.55 L286.00,816.93 L287.00,812.38 L288.00,807.89 L289.00,803.47 L290.00,799.13 L291.00,794.86 L292.00,790.68 L293.00,786.57 L294.00,782.56 L295.00,778.63 L296.00,774.79 L297.00,771.04 L298.00,767.38 L299.00,763.83 L300.00,760.37 L301.00,757.01 L302.00,753.74 L303.00,750.58 L304.00,747.53 L305.00,744.57 L306.00,741.72 L307.00,738.97 L308.00,736.33 L309.00,733.79 L310.00,731.35 L311.00,729.02 L312.00,726.79 L313.00,724.67 L314.00,722.64 L315.00,720.73 L316.00,718.91 L317.00,717.20 L318.00,715.58 L319.00,714.07 L320.00,712.65 L321.00,711.34 L322.00,710.12 L323.00,708.99 L324.00,707.97 L325.00,707.03 L326.00,706.20 L327.00,705.45 L328.00,704.79 L329.00,704.23 L330.00,703.76 L331.00,703.37 L332.00,703.07 L333.00,702.86 L334.00,702.73 L335.00,702.69 L336.00,702.73 L337.00,702.85 L338.00,703.06 L339.00,703.34 L340.00,703.71 L341.00,704.15 L342.00,704.67 L343.00,705.27 L344.00,705.94 L345.00,706.68 L346.00,707.50 L347.00,708.39 L348.00,709.35 L349.00,710.38 L350.00,711.48 L351.00,712.65 L352.00,713.88 L353.00,715.18 L354.00,716.54 L355.00,717.96 L356.00,719.45 L357.00,720.99 L358.00,722.59 L359.00,724.25 L360.00,725.96 L361.00,727.73 L362.00,729.55 L363.00,731.42 L364.00,733.33 L365.00,735.30 L366.00,737.31 L367.00,739.36 L368.00,741.45 L369.00,743.58 L370.00,745.75 L371.00,747.96 L372.00,750.19 L373.00,752.47 L374.00,754.77 L375.00,757.09 L376.00,759.45 L377.00,761.83 L378.00,764.23 L379.00,766.65 L380.00,769.09 L381.00,771.55 L382.00,774.02 L383.00,776.50 L384.00,778.99 L385.00,781.50 L386.00,784.01 L387.00,786.53 L388.00,789.05 L389.00,791.57 L390.00,794.10 L391.00,796.62 L392.00,799.15 L393.00,801.67 L394.00,804.18 L395.00,806.69 L396.00,809.20 L397.00,811.70 L398.00,814.18 L399.00,816.66 L400.00,819.13 L401.00,821.58 L402.00,824.03 L403.00,826.45 L404.00,828.87 L405.00,831.27 L406.00,833.66 L407.00,836.03 L408.00,838.38 L409.00,840.72 L410.00,843.03 L411.00,845.34 L412.00,847.62 L413.00,849.88 L414.00,852.13 L415.00,854.36 L416.00,856.56 L417.00,858.75 L418.00,860.92 L419.00,863.07 L420.00,865.20 L421.00,867.30 L422.00,869.39 L423.00,871.46 L424.00,873.50 L425.00,875.52 L426.00,877.53 L427.00,879.51 L428.00,881.47 L429.00,883.41 L430.00,885.33 L431.00,887.22 L432.00,889.10 L433.00,890.95 L434.00,892.78 L435.00,894.59 L436.00,896.38 L437.00,898.14 L438.00,899.88 L439.00,901.60 L440.00,903.30 L441.00,904.98 L442.00,906.64 L443.00,908.27 L444.00,909.89 L445.00,911.48 L446.00,913.05 L447.00,914.60 L448.00,916.13 L449.00,917.64 L450.00,919.13 L451.00,920.60 L452.00,922.05 L453.00,923.48 L454.00,924.90 L455.00,926.29 L456.00,927.67 L457.00,929.03 L458.00,930.38 L459.00,931.71 L460.00,933.03 L461.00,934.34 L462.00,935.63 L463.00,936.91 L464.00,938.17 L465.00,939.43 L466.00,940.68 L467.00,941.92 L468.00,943.15 L469.00,944.37 L470.00,945.59 L471.00,946.81 L472.00,948.02 L473.00,949.23 L474.00,950.43 L475.00,951.64 L476.00,952.85 L477.00,954.05 L478.00,955.26 L479.00,956.47 L480.00,957.69 L481.00,958.91 L482.00,960.14 L483.00,961.37 L484.00,962.62 L485.00,963.87 L486.00,965.12 L487.00,966.39 L488.00,967.67 L489.00,968.96 L490.00,970.26 L491.00,971.58 L492.00,972.90 L493.00,974.24 L494.00,975.59 L495.00,976.96 L496.00,978.33 L497.00,979.73 L498.00,981.13 L499.00,982.55 L500.00,983.98 L501.00,985.43 L502.00,986.89 L503.00,988.37 L504.00,989.85 L505.00,991.35 L506.00,992.86 L507.00,994.39 L508.00,995.92 L509.00,997.47 L510.00,999.02 L511.00,1000.59 L512.00,1002.16 L513.00,1003.74 L514.00,1005.33 L515.00,1006.93 L516.00,1008.53 L517.00,1010.14 L518.00,1011.75 L519.00,1013.36 L520.00,1014.98 L521.00,1016.59 L522.00,1018.21 L523.00,1019.82 L524.00,1021.44 L525.00,1023.05 L526.00,1024.66 L527.00,1026.26 L528.00,1027.85 L529.00,1029.44 L530.00,1031.02 L531.00,1032.60 L532.00,1034.16 L533.00,1035.71 L534.00,1037.25 L535.00,1038.78 L536.00,1040.29 L537.00,1041.79 L538.00,1043.27 L539.00,1044.74 L540.00,1046.19 L541.00,1047.62 L542.00,1049.04 L543.00,1050.44 L544.00,1051.81 L545.00,1053.17 L546.00,1054.50 L547.00,1055.82 L548.00,1057.11 L549.00,1058.38 L550.00,1059.63 L551.00,1060.85 L552.00,1062.06 L553.00,1063.23 L554.00,1064.39 L555.00,1065.52 L556.00,1066.62 L557.00,1067.70 L558.00,1068.76 L559.00,1069.79 L560.00,1070.79 L561.00,1071.78 L562.00,1072.73 L563.00,1073.66 L564.00,1074.57 L565.00,1075.45 L566.00,1076.31 L567.00,1077.15 L568.00,1077.96 L569.00,1078.74 L570.00,1079.51 L571.00,1080.24 L572.00,1080.96 L573.00,1081.65 L574.00,1082.33 L575.00,1082.97 L576.00,1083.60 L577.00,1084.21 L578.00,1084.79 L579.00,1085.36 L580.00,1085.90 L581.00,1086.42 L582.00,1086.93 L583.00,1087.42 L584.00,1087.88 L585.00,1088.33 L586.00,1088.76 L587.00,1089.18 L588.00,1089.58 L589.00,1089.96 L590.00,1090.33 L591.00,1090.68 L592.00,1091.01 L593.00,1091.33 L594.00,1091.64 L595.00,1091.93 L596.00,1092.22 L597.00,1092.48 L598.00,1092.65 L599.00,1092.77 L600.00,1092.86 L601.00,1092.92 L602.00,1092.95 L603.00,1092.95 L604.00,1092.92 L605.00,1092.87 L606.00,1092.98 L607.00,1093.09 L608.00,1093.20 L609.00,1093.31 L610.00,1093.42 L611.00,1093.53 L612.00,1093.64 L613.00,1093.76 L614.00,1093.84 L615.00,1093.91 L616.00,1093.98 L617.00,1094.05 L618.00,1094.11 L619.00,1094.18 L620.00,1094.25 L621.00,1094.32 L622.00,1094.39 L623.00,1094.46 L624.00,1094.52 L625.00,1094.59 L626.00,1094.65 L627.00,1094.72 L628.00,1094.78 L629.00,1094.84 L630.00,1094.90 L631.00,1094.96 L632.00,1095.02 L633.00,1095.08 L634.00,1095.14 L635.00,1095.20 L636.00,1095.24 L637.00,1095.28 L638.00,1095.32 L639.00,1095.36 L640.00,1095.40 L641.00,1095.44 L642.00,1095.48 L643.00,1095.52 L644.00,1095.56 L645.00,1095.60 L646.00,1095.64 L647.00,1095.67 L648.00,1095.71 L649.00,1095.75 L650.00,1095.79 L651.00,1095.82 L652.00,1095.86 L653.00,1095.90 L654.00,1095.94 L655.00,1095.97 L655.70,1096.00" fill="none" stroke="#2a2a2a" stroke-opacity="0.85" stroke-width="2.4"/>
<g stroke="#222" stroke-width="2" fill="none">
<path d="M143.0,636.0 V1105.2 M142.0,1097.2 H656.7"/>
<path d="M135.0,1097.2 H143.0"/>
<path d="M139.0,1051.2 H143.0"/>
<path d="M135.0,1005.2 H143.0"/>
<path d="M139.0,959.1 H143.0"/>
<path d="M135.0,913.1 H143.0"/>
<path d="M139.0,867.1 H143.0"/>
<path d="M135.0,821.1 H143.0"/>
<path d="M139.0,775.1 H143.0"/>
<path d="M135.0,729.0 H143.0"/>
<path d="M139.0,683.0 H143.0"/>
<path d="M135.0,637.0 H143.0"/>
<path d="M143.0,1097.2 V1105.2"/>
<path d="M194.3,1097.2 V1101.2"/>
<path d="M245.5,1097.2 V1105.2"/>
<path d="M296.8,1097.2 V1101.2"/>
<path d="M348.1,1097.2 V1105.2"/>
<path d="M399.4,1097.2 V1101.2"/>
<path d="M450.6,1097.2 V1105.2"/>
<path d="M501.9,1097.2 V1101.2"/>
<path d="M553.2,1097.2 V1105.2"/>
<path d="M604.4,1097.2 V1101.2"/>
<path d="M655.7,1097.2 V1105.2"/>
</g>
<g transform="translate(116.08,1104.10) scale(1,1.041)"><text x="0" y="0" font-size="25.20" fill="#000" font-family="Liberation Sans, sans-serif" xml:space="preserve">0</text></g>
<g transform="translate(88.05,1012.06) scale(1,1.041)"><text x="0" y="0" font-size="25.20" fill="#000" font-family="Liberation Sans, sans-serif" xml:space="preserve">200</text></g>
<g transform="translate(88.05,920.02) scale(1,1.041)"><text x="0" y="0" font-size="25.20" fill="#000" font-family="Liberation Sans, sans-serif" xml:space="preserve">400</text></g>
<g transform="translate(88.05,827.98) scale(1,1.041)"><text x="0" y="0" font-size="25.20" fill="#000" font-family="Liberation Sans, sans-serif" xml:space="preserve">600</text></g>
<g transform="translate(88.05,735.94) scale(1,1.041)"><text x="0" y="0" font-size="25.20" fill="#000" font-family="Liberation Sans, sans-serif" xml:space="preserve">800</text></g>
<g transform="translate(74.04,643.90) scale(1,1.041)"><text x="0" y="0" font-size="25.20" fill="#000" font-family="Liberation Sans, sans-serif" xml:space="preserve"> 000</text><path transform="translate(0.00,0) scale(0.01230,-0.01182)" d="M763,0 L583,0 L583,1147 Q480,1050 223,929 L223,1103 Q520,1230 650,1466 L763,1466 Z" fill="#000"/></g>
<g transform="translate(135.99,1129.40) scale(1,1.041)"><text x="0" y="0" font-size="25.20" fill="#000" font-family="Liberation Sans, sans-serif" xml:space="preserve">0</text></g>
<g transform="translate(231.52,1129.40) scale(1,1.041)"><text x="0" y="0" font-size="25.20" fill="#000" font-family="Liberation Sans, sans-serif" xml:space="preserve">20</text></g>
<g transform="translate(334.06,1129.40) scale(1,1.041)"><text x="0" y="0" font-size="25.20" fill="#000" font-family="Liberation Sans, sans-serif" xml:space="preserve">40</text></g>
<g transform="translate(436.60,1129.40) scale(1,1.041)"><text x="0" y="0" font-size="25.20" fill="#000" font-family="Liberation Sans, sans-serif" xml:space="preserve">60</text></g>
<g transform="translate(539.14,1129.40) scale(1,1.041)"><text x="0" y="0" font-size="25.20" fill="#000" font-family="Liberation Sans, sans-serif" xml:space="preserve">80</text></g>
<g transform="translate(634.68,1129.40) scale(1,1.041)"><text x="0" y="0" font-size="25.20" fill="#000" font-family="Liberation Sans, sans-serif" xml:space="preserve"> 00</text><path transform="translate(0.00,0) scale(0.01230,-0.01182)" d="M763,0 L583,0 L583,1147 Q480,1050 223,929 L223,1103 Q520,1230 650,1466 L763,1466 Z" fill="#000"/></g>
<text x="399.9" y="1175" font-size="26.7" font-weight="bold" text-anchor="middle" font-family="Liberation Sans, sans-serif">Fraction of Lattice Energy (%)</text>
<text transform="translate(55.2,866.25) rotate(-90)" font-size="26.8" font-weight="bold" text-anchor="middle" font-family="Liberation Sans, sans-serif">Number of Observations</text>
<rect x="528.9" y="627.6" width="54.7" height="26.4" fill="#e1000d" fill-opacity="0.5" stroke="#f2444c" stroke-width="2"/>
<rect x="528.9" y="658.2" width="54.7" height="26.3" fill="#111" fill-opacity="0.5" stroke="#2a2a2a" stroke-opacity="0.75" stroke-width="2"/>
<text x="590.3" y="649.5" font-size="25.1" font-family="Liberation Sans, sans-serif">Hetero</text>
<text x="590.3" y="678.9" font-size="25.1" font-family="Liberation Sans, sans-serif">Homo</text>
</svg>
</body></html>
